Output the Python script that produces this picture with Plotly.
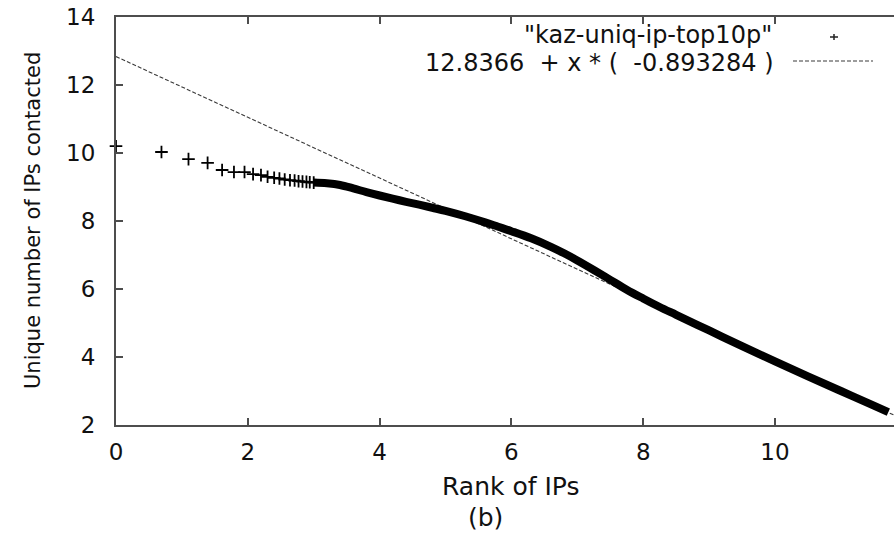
import plotly.graph_objects as go

# ---- data: ln(rank) vs ln(unique IPs contacted) for the top 10% hosts ----
# sparse head of the ranking, drawn as individual "+" points
head_x = [0.00, 0.69, 1.10, 1.39, 1.61, 1.79, 1.95, 2.08, 2.20, 2.30,
          2.40, 2.48, 2.56, 2.64, 2.71, 2.77, 2.83, 2.89, 2.94, 3.00]
head_y = [10.20, 10.03, 9.82, 9.71, 9.50, 9.44, 9.44, 9.38, 9.35, 9.30,
          9.27, 9.25, 9.22, 9.20, 9.19, 9.17, 9.16, 9.15, 9.14, 9.13]

# dense tail of the ranking (points overlap into a solid band)
tail_x = [3.00, 3.20, 3.40, 3.60, 3.80, 4.00, 4.30, 4.60, 4.80, 5.00,
          5.30, 5.60, 5.80, 6.00, 6.30, 6.60, 6.80, 7.00, 7.25, 7.50,
          7.75, 8.00, 8.25, 8.50, 9.00, 9.50, 10.00, 10.50, 11.00, 11.50,
          11.72]
tail_y = [9.13, 9.11, 9.06, 8.96, 8.85, 8.75, 8.61, 8.48, 8.39, 8.30,
          8.14, 7.96, 7.83, 7.70, 7.49, 7.24, 7.05, 6.84, 6.56, 6.27,
          5.98, 5.72, 5.47, 5.24, 4.78, 4.32, 3.87, 3.43, 3.00, 2.57,
          2.38]

# least-squares fit  y = a + x * b
fit_a = 12.8366
fit_b = -0.893284
fit_x = [0.0, 11.9]

x_ticks = [0, 2, 4, 6, 8, 10]
y_ticks = [2, 4, 6, 8, 10, 12, 14]

series_label = '"kaz-uniq-ip-top10p"'
fit_label = "12.8366\u00a0\u00a0+ x * (\u00a0\u00a0-0.893284 )"

# ---- layout geometry (pixels) ----
W, H = 894, 533
L, R, T, B = 116, 0, 17, 108
PW, PH = W - L - R, H - T - B


def px(xp):
    return (xp - L) / PW


def py(yp):
    return (H - B - yp) / PH


FONT = "DejaVu Sans"
AX = "#4d4d4d"

fig = go.Figure()

fig.add_trace(go.Scatter(
    x=fit_x, y=[fit_a + fit_b * v for v in fit_x],
    mode="lines", line=dict(color="#3a3a3a", width=1.1, dash="4px,2px"),
    showlegend=False, hoverinfo="skip"))

fig.add_trace(go.Scatter(
    x=tail_x, y=tail_y, mode="lines",
    line=dict(color="black", width=8, shape="spline", smoothing=1.0),
    showlegend=False))

fig.add_trace(go.Scatter(
    x=head_x, y=head_y, mode="markers", cliponaxis=False,
    marker=dict(symbol="cross-thin", size=9, color="black",
                line=dict(color="black", width=1.8)),
    showlegend=False))

axis_common = dict(
    showline=True, linecolor=AX, linewidth=2,
    ticks="inside", ticklen=7, tickwidth=1.5, tickcolor=AX,
    showgrid=False, zeroline=False,
    tickfont=dict(family=FONT, size=23, color="#111"),
)

fig.update_xaxes(range=[0, PW / 65.9], tickvals=x_ticks, mirror="ticks",
                 ticklabelstandoff=5, **axis_common)
fig.update_yaxes(range=[2, 14], tickvals=y_ticks, mirror=False,
                 ticklabelstandoff=14, **axis_common)

annotations = [
    dict(text="Rank of IPs", x=px(511), y=py(487), font=dict(size=25)),
    dict(text="(b)", x=px(485), y=py(517), font=dict(size=25)),
    dict(text="Unique number of IPs contacted", x=px(33), y=py(221),
         textangle=-90, font=dict(size=21)),
    dict(text=series_label, x=px(774), y=py(35), xanchor="right",
         font=dict(size=24)),
    dict(text=fit_label, x=px(776), y=py(63), xanchor="right",
         font=dict(size=24)),
]
for a in annotations:
    a.setdefault("xanchor", "center")
    a["yanchor"] = "middle"
    a["xref"] = "paper"
    a["yref"] = "paper"
    a["showarrow"] = False
    a["font"]["family"] = FONT
    a["font"]["color"] = "#111"
fig.update_layout(annotations=annotations)

# key samples to the right of the key labels
shapes = [
    dict(type="line", x0=px(830), x1=px(838), y0=py(37), y1=py(37),
         line=dict(color="#222", width=1.5)),
    dict(type="line", x0=px(834), x1=px(834), y0=py(34), y1=py(40),
         line=dict(color="#222", width=1.5)),
    dict(type="line", x0=px(793), x1=px(873), y0=py(61), y1=py(61),
         line=dict(color="#3a3a3a", width=1.1, dash="4px,2px")),
]
for s in shapes:
    s["xref"] = "paper"
    s["yref"] = "paper"
fig.update_layout(shapes=shapes)

fig.update_layout(
    width=W, height=H, autosize=False,
    margin=dict(l=L, r=R, t=T, b=B, pad=0),
    paper_bgcolor="white", plot_bgcolor="white",
    showlegend=False,
)

fig.write_html("out.html")
